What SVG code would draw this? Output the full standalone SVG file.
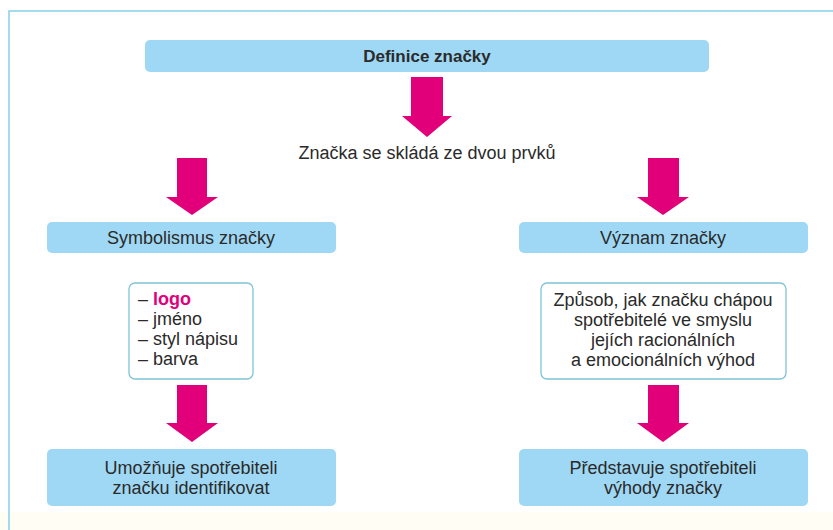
<svg xmlns="http://www.w3.org/2000/svg" width="833" height="530" viewBox="0 0 833 530">
<style>
.bx{fill:#9fd8f4;}
.wb{fill:#ffffff;stroke:#7fc4d8;stroke-width:1.3;}
.ar{fill:#e2007a;}
text{font-family:"Liberation Sans",Arial,sans-serif;font-size:18px;fill:#2a2a2a;}
.c{text-anchor:middle;}
.b{font-weight:bold;}
</style>
<rect x="0" y="0" width="833" height="530" fill="#ffffff"/>
<rect x="0" y="512" width="833" height="18" fill="#fffdf4"/>
<path d="M9 530 V11 H833" fill="none" stroke="#86cfe9" stroke-width="1.5"/>
<g id="connectors">
<polygon class="ar" points="411,77 443,77 443,116 452,116 427,137 402,116 411,116"/>
<polygon class="ar" points="177,158 207,158 207,197 218,197 192,215 166,197 177,197"/>
<polygon class="ar" points="648,158 679,158 679,197 689,197 663,215 637,197 648,197"/>
<polygon class="ar" points="177,385 207,385 207,423 218,423 192,442 166,423 177,423"/>
<polygon class="ar" points="648,385 679,385 679,423 689,423 663,442 637,423 648,423"/>
</g>
<g id="definice">
<rect class="bx" x="145" y="40" width="564" height="32" rx="5"/>
<text class="c b" x="427" y="62" style="font-size:17px">Definice značky</text>
</g>
<g id="dva-prvky">
<text class="c" x="427" y="159">Značka se skládá ze dvou prvků</text>
</g>
<g id="symbolismus">
<rect class="bx" x="47" y="222" width="289" height="31" rx="5"/>
<text class="c" x="191" y="244">Symbolismus značky</text>
</g>
<g id="vyznam">
<rect class="bx" x="519" y="222" width="289" height="31" rx="5"/>
<text class="c" x="663" y="244">Význam značky</text>
</g>
<g id="seznam">
<rect class="wb" x="129" y="283" width="124" height="96" rx="6"/>
<text x="138" y="305">– <tspan class="b" style="fill:#e2007a">logo</tspan></text>
<text x="138" y="325">– jméno</text>
<text x="138" y="345">– styl nápisu</text>
<text x="138" y="365">– barva</text>
</g>
<g id="zpusob">
<rect class="wb" x="541" y="283" width="245" height="96" rx="6"/>
<text class="c" x="663" y="306">Způsob, jak značku chápou</text>
<text class="c" x="663" y="326">spotřebitelé ve smyslu</text>
<text class="c" x="663" y="346">jejích racionálních</text>
<text class="c" x="663" y="366">a emocionálních výhod</text>
</g>
<g id="identifikovat">
<rect class="bx" x="47" y="449" width="289" height="57" rx="5"/>
<text class="c" x="191" y="474">Umožňuje spotřebiteli</text>
<text class="c" x="191" y="494">značku identifikovat</text>
</g>
<g id="vyhody">
<rect class="bx" x="519" y="449" width="289" height="57" rx="5"/>
<text class="c" x="663" y="474">Představuje spotřebiteli</text>
<text class="c" x="663" y="494">výhody značky</text>
</g>
</svg>
